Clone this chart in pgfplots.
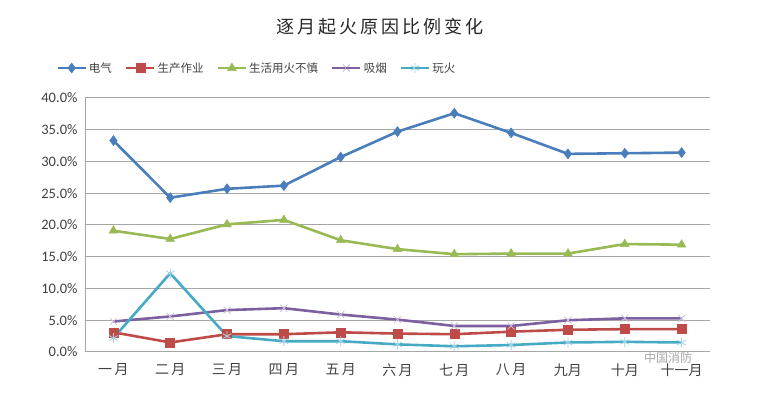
\documentclass[border=0pt]{standalone}
\usepackage{pgfplots}
\pgfplotsset{compat=1.18}
\usepackage{fontspec}
\setmainfont{Carlito}
\newfontfamily\cjk{Noto Sans CJK SC}
\definecolor{cblue}{HTML}{4A7EBB}
\definecolor{cred}{HTML}{BE4B48}
\definecolor{cgreen}{HTML}{98B954}
\definecolor{cpurple}{HTML}{7D60A0}
\definecolor{ccyan}{HTML}{46AAC5}
\definecolor{tgray}{HTML}{404040}
\definecolor{ggray}{HTML}{A6A6A6}
\begin{document}
\begin{tikzpicture}
\begin{axis}[
  at={(85pt,52pt)}, anchor=south west,
  scale only axis, width=625pt, height=254pt,
  xmin=-0.5, xmax=10.5, ymin=0, ymax=40,
  xtick={0,...,10},
  xticklabels={一\,月,二\,月,三\,月,四\,月,五\,月,六\,月,七\,月,八\,月,九月,十月,十一月},
  xticklabel style={font=\cjk\fontsize{14}{16}\selectfont, text=tgray, yshift=-8pt},
  ytick={0,5,...,40},
  yticklabel={\pgfmathprintnumber[fixed,fixed zerofill,precision=1]{\tick}\%},
  yticklabel style={font=\fontsize{14.5}{16}\selectfont, text=tgray, xshift=-4pt},
  /pgf/number format/assume math mode=true,
  axis x line=bottom, axis y line=left,
  axis line style={ggray, line width=1pt, -},
  major tick length=0pt,
  ymajorgrids, grid style={ggray, line width=1pt},
  clip=false,
  legend columns=5,
  legend style={at={(0.275,1.118)}, anchor=center, draw=none, fill=none,
    font=\cjk\fontsize{11.5}{13}\selectfont, text=tgray,
    /tikz/every even column/.append style={column sep=11pt}},
  legend image code/.code={\draw[#1] (0pt,0pt) -- (14pt,0pt) plot coordinates {(14pt,0pt)}; \draw[#1,mark repeat=2] (14pt,0pt) -- (28pt,0pt);},
]
\addplot[cblue, line width=2.6pt, mark=diamond*, mark size=5pt, mark options={line width=0.5pt}] coordinates {
(0,33.3) (1,24.3) (2,25.7) (3,26.2) (4,30.7) (5,34.7) (6,37.6) (7,34.5) (8,31.2) (9,31.3) (10,31.4)};
\addlegendentry{电气}
\addplot[cred, line width=2.6pt, mark=square*, mark size=4.5pt, mark options={line width=0.5pt}] coordinates {
(0,3.1) (1,1.5) (2,2.8) (3,2.8) (4,3.1) (5,2.9) (6,2.8) (7,3.2) (8,3.5) (9,3.6) (10,3.6)};
\addlegendentry{生产作业}
\addplot[cgreen, line width=2.6pt, mark=triangle*, mark size=5pt, mark options={line width=0.5pt}] coordinates {
(0,19.1) (1,17.8) (2,20.1) (3,20.8) (4,17.6) (5,16.2) (6,15.4) (7,15.5) (8,15.5) (9,17.0) (10,16.9)};
\addlegendentry{生活用火不慎}
\addplot[cpurple, line width=2.6pt, mark=x, mark size=5pt, mark options={line width=0.8pt, draw=cpurple!40}] coordinates {
(0,4.8) (1,5.6) (2,6.6) (3,6.9) (4,5.9) (5,5.1) (6,4.1) (7,4.1) (8,5.0) (9,5.3) (10,5.3)};
\addlegendentry{吸烟}
\addplot[ccyan, line width=2.6pt, mark=asterisk, mark size=5pt, mark options={line width=0.8pt, draw=ccyan!50}] coordinates {
(0,2.2) (1,12.4) (2,2.5) (3,1.7) (4,1.7) (5,1.2) (6,0.9) (7,1.1) (8,1.5) (9,1.6) (10,1.5)};
\addlegendentry{玩火}
\end{axis}
\node[font=\cjk\fontsize{18}{20}\selectfont, text=black!85] at (380pt,377pt) {逐\,月\,起\,火\,原\,因\,比\,例\,变\,化};
\node[font=\cjk\fontsize{12}{14}\selectfont, text=black!35, inner sep=0pt] at (668pt,46pt) {中国消防};
\pgfresetboundingbox
\path[use as bounding box] (0,0) rectangle (761pt,404pt);
\end{tikzpicture}
\end{document}
